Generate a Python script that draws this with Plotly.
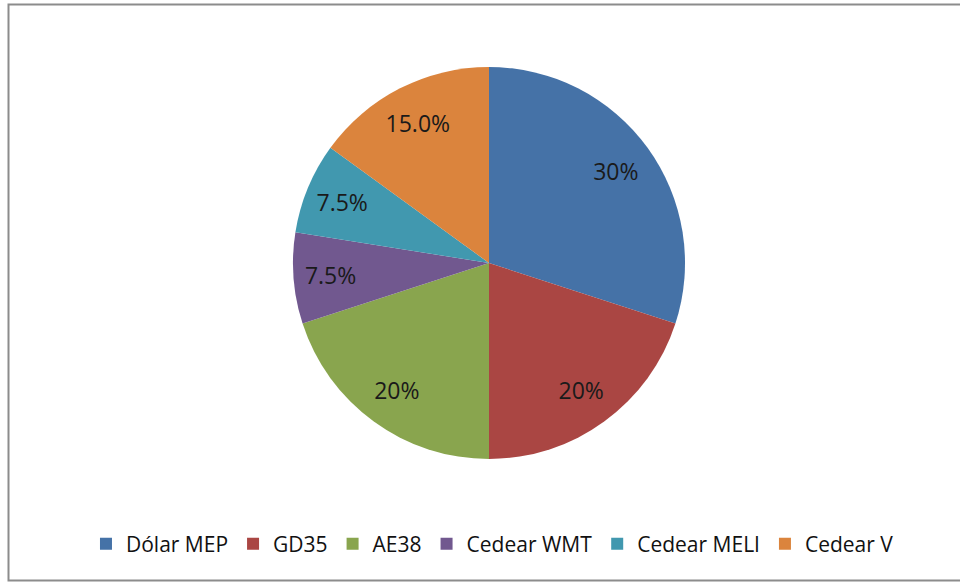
import plotly.graph_objects as go

labels = ["Dólar MEP", "GD35", "AE38", "Cedear WMT", "Cedear MELI", "Cedear V"]
values = [30, 20, 20, 7.5, 7.5, 15]
text_labels = ["30%", "20%", "20%", "7.5%", "7.5%", "15.0%"]
colors = ["#4572A7", "#AA4643", "#89A54E", "#71588F", "#4198AF", "#DB843D"]

W, H = 960, 583
cx, cy, r = 489, 263, 196
dom_x = [(cx - r) / W, (cx + r) / W]
dom_y = [1 - (cy + r) / H, 1 - (cy - r) / H]

fig = go.Figure()
fig.add_trace(go.Pie(
    labels=labels, values=values, sort=False, direction="clockwise", rotation=0,
    marker=dict(colors=colors, line=dict(width=0)),
    textinfo="none", domain=dict(x=dom_x, y=dom_y), hoverinfo="label+percent",
))
fig.add_trace(go.Pie(
    labels=labels, values=values, sort=False, direction="clockwise", rotation=0,
    hole=0.6, showlegend=False,
    marker=dict(colors=["rgba(0,0,0,0)"] * len(values), line=dict(width=0)),
    text=text_labels, textinfo="text", textposition="inside",
    insidetextorientation="horizontal",
    textfont=dict(family="Open Sans, sans-serif", size=23, color="#1a1a1a"),
    domain=dict(x=dom_x, y=dom_y), hoverinfo="skip",
))

fig.update_layout(
    width=W, height=H,
    margin=dict(l=0, r=0, t=0, b=0),
    paper_bgcolor="white", plot_bgcolor="white",
    legend=dict(orientation="h", x=0.513, xanchor="center", y=1 - 544 / H, yanchor="middle",
                font=dict(family="Open Sans, sans-serif", size=21, color="#111"),
                itemwidth=30, traceorder="normal"),
    shapes=[dict(type="rect", xref="paper", yref="paper",
                 x0=8.5 / W, x1=1.02, y0=1 - 580.5 / H, y1=1 - 4.5 / H,
                 line=dict(color="#8c8c8c", width=2), fillcolor="rgba(0,0,0,0)", layer="below")],
)

fig.write_html("out.html", config={"displayModeBar": False},
               post_script="document.body.style.margin='0';document.body.style.overflow='hidden';")
